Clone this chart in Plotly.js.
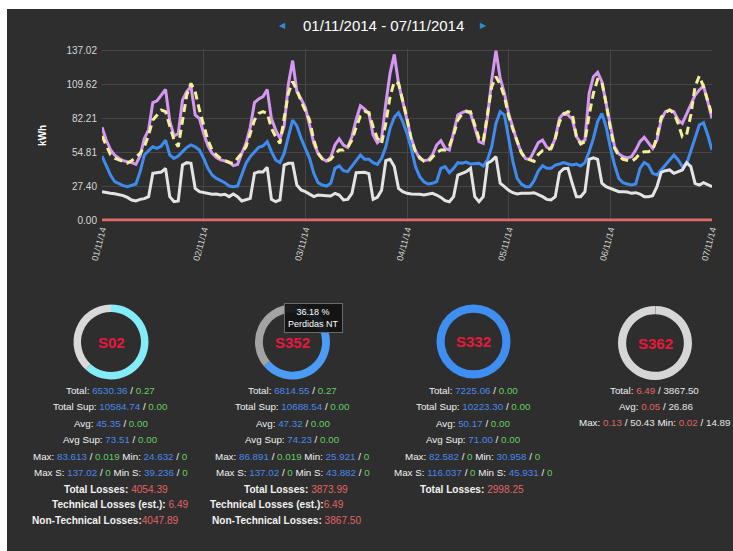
<!DOCTYPE html>
<html>
<head>
<meta charset="utf-8">
<script src="https://cdn.plot.ly/plotly-3.0.1.min.js"></script>
<style>
  html, body { margin: 0; padding: 0; background: #ffffff; width: 733px; height: 551px; overflow: hidden; }
  #chart { position: absolute; left: 7px; top: 9px; width: 726px; height: 542px; }
</style>
</head>
<body>
<div id="chart"></div>
<script>
// ---------------- DATA ----------------
const dateRangeLabel = '01/11/2014 - 07/11/2014';
const startDay = '2014-11-01';
const endDay = '2014-11-07';
const yTicks = [0, 27.40, 54.81, 82.21, 109.62, 137.02];
const yTickText = ['0.00', '27.40', '54.81', '82.21', '109.62', '137.02'];

// hourly kWh, 01/11/2014 00:00 .. 07/11/2014 00:00
const purpleKwh = [
  75.0,64.7,57.0,52.5,50.0,48.0,47.2,46.5,45.0,52.0,66.0,73.0,95.0,96.5,101.0,105.7,80.0,68.0,70.0,97.0,104.0,108.0,85.0,82.0,
  70.0,60.0,54.0,50.5,48.6,47.5,47.0,44.0,45.0,54.0,62.0,75.0,95.0,98.0,99.8,105.7,82.0,73.0,66.0,76.0,110.0,129.0,104.0,98.0,
  91.0,76.9,62.0,54.0,49.6,47.7,50.7,60.7,65.6,60.7,58.8,67.4,81.5,92.5,89.8,86.3,68.8,62.6,66.1,94.4,118.7,134.0,110.6,95.8,
  79.6,66.1,56.1,49.6,48.0,48.6,52.6,60.7,64.2,58.0,56.6,71.5,85.0,86.9,88.2,86.3,74.2,63.4,62.0,83.6,113.3,137.02,114.7,102.5,
  86.0,75.0,63.4,54.5,49.6,49.1,56.1,62.6,64.7,58.8,57.5,66.1,82.3,86.3,85.0,81.7,67.4,62.6,64.7,102.5,116.0,119.5,111.9,94.4,
  74.2,59.3,53.4,51.3,50.2,51.3,56.6,63.4,66.9,62.0,58.0,64.7,80.9,87.7,89.0,87.7,80.9,78.2,86.3,94.4,101.0,105.2,108.4,95.8,
  82.3
];
const yellowKwh = [
  68.0,60.0,53.0,50.0,48.5,47.5,46.0,48.0,51.0,54.0,59.3,68.8,80.9,85.0,89.0,87.7,75.5,64.7,59.3,80.9,101.0,110.6,103.9,89.0,
  76.9,64.7,56.6,52.6,49.9,48.0,46.4,45.9,49.9,54.0,59.3,70.1,80.9,86.3,87.7,86.3,74.2,67.4,62.0,82.3,102.5,112.0,105.2,96.0,
  89.0,80.9,64.7,54.0,49.4,47.5,49.1,53.4,56.6,56.6,58.8,64.7,75.0,84.2,87.7,86.9,75.5,66.1,62.0,78.2,99.8,112.0,110.6,97.1,
  82.3,64.7,55.3,50.7,47.5,47.2,51.3,54.5,56.6,56.6,59.9,68.8,80.9,85.8,87.7,87.7,76.9,66.1,63.4,86.3,107.9,116.0,109.8,99.8,
  84.0,73.4,63.4,54.5,49.9,48.6,47.5,53.1,56.1,56.6,58.0,66.1,79.6,85.8,87.7,86.3,67.4,61.5,63.4,85.0,102.5,113.8,111.9,94.4,
  74.2,58.0,51.8,49.1,48.0,47.5,49.9,54.0,55.3,55.3,56.6,67.4,83.1,86.9,89.0,86.3,78.2,67.4,68.8,85.0,107.9,116.5,107.9,95.8,
  85.0
];
const blueKwh = [
  51.8,44.5,36.4,31.0,29.1,27.8,27.0,27.8,29.1,39.1,52.6,56.1,59.3,58.0,59.9,64.7,52.6,49.9,51.8,55.3,58.8,60.7,59.3,56.6,
  49.9,41.8,36.4,33.7,31.8,30.2,27.5,27.0,27.5,36.4,45.9,51.3,55.3,58.8,59.9,63.4,55.3,48.6,46.4,53.9,67.4,80.9,76.1,66.1,
  58.0,49.9,37.8,30.2,28.3,27.5,29.7,41.8,43.7,39.9,39.1,43.2,48.0,52.6,49.1,49.1,46.4,45.0,49.9,59.3,74.2,83.1,86.9,79.6,
  70.1,58.0,43.2,35.1,31.0,29.1,29.7,31.0,41.8,43.2,38.3,41.8,46.4,45.9,46.9,45.3,45.3,45.9,43.7,48.6,59.3,78.2,87.7,85.0,
  66.0,47.2,33.7,29.1,27.0,27.0,31.8,39.7,44.0,41.8,41.8,44.5,45.3,46.4,45.3,44.5,45.3,43.7,46.4,55.3,66.1,79.6,86.3,75.5,
  58.8,44.5,33.7,30.2,29.1,28.3,29.1,41.8,46.6,44.5,37.8,36.4,40.5,44.5,48.0,52.6,48.6,43.2,45.3,56.1,67.4,76.9,78.8,68.8,
  56.6
];
const whiteKwh = [
  22.9,22.1,21.6,21.3,20.8,19.7,18.3,16.2,15.4,16.7,17.3,18.9,37.8,38.6,38.8,41.8,18.9,14.8,15.4,44.5,46.4,45.9,25.6,22.9,
  22.1,21.6,20.8,21.0,20.2,20.8,18.9,21.0,18.9,15.4,16.7,17.5,37.8,39.1,38.8,42.6,16.7,14.8,16.2,44.5,45.9,45.9,28.3,24.3,
  22.9,21.0,18.9,20.2,20.2,19.7,19.4,21.6,20.2,16.2,16.7,21.6,38.3,38.6,38.6,37.5,16.7,18.3,24.0,48.0,49.1,43.2,25.6,22.9,
  21.6,21.0,21.0,20.8,20.2,21.0,21.6,20.2,18.3,15.6,14.8,18.9,36.4,37.8,39.1,41.8,18.9,14.8,18.9,45.9,48.0,51.3,29.7,27.0,
  24.0,22.1,21.0,21.6,21.3,21.6,22.1,20.8,18.9,16.7,16.2,18.9,38.3,41.5,41.8,29.7,18.9,18.9,22.9,49.1,50.4,49.1,29.7,27.0,
  25.6,23.7,22.9,22.9,22.7,21.6,22.1,21.0,18.9,18.9,19.7,27.0,38.6,39.9,40.5,37.8,39.1,40.5,46.4,43.2,29.7,28.3,30.2,28.3,
  27.0
];
const redKwh = [
  0,0,0,0,0,0,0,0,0,0,0,0,0,0,0,0,0,0,0,0,0,0,0,0,
  0,0,0,0,0,0,0,0,0,0,0,0,0,0,0,0,0,0,0,0,0,0,0,0,
  0,0,0,0,0,0,0,0,0,0,0,0,0,0,0,0,0,0,0,0,0,0,0,0,
  0,0,0,0,0,0,0,0,0,0,0,0,0,0,0,0,0,0,0,0,0,0,0,0,
  0,0,0,0,0,0,0,0,0,0,0,0,0,0,0,0,0,0,0,0,0,0,0,0,
  0,0,0,0,0,0,0,0,0,0,0,0,0,0,0,0,0,0,0,0,0,0,0,0,
  0
];

// station statistics
const stations = ['S02', 'S352', 'S332', 'S362'];
const totalMain = ['6530.36', '6814.55', '7225.06', '6.49'];
const totalSecond = ['0.27', '0.27', '0.00', '3867.50'];
const totalSupMain = ['10584.74', '10688.54', '10223.30'];
const totalSupSecond = ['0.00', '0.00', '0.00'];
const avgMain = ['45.35', '47.32', '50.17', '0.05'];
const avgSecond = ['0.00', '0.00', '0.00', '26.86'];
const avgSupMain = ['73.51', '74.23', '71.00'];
const avgSupSecond = ['0.00', '0.00', '0.00'];
const maxMain = ['83.613', '86.891', '82.582', '0.13'];
const maxSecond = ['0.019', '0.019', '0', '50.43'];
const minMain = ['24.632', '25.921', '30.958', '0.02'];
const minSecond = ['0', '0', '0', '14.89'];
const maxSMain = ['137.02', '137.02', '116.037'];
const maxSSecond = ['0', '0', '0'];
const minSMain = ['39.236', '43.882', '45.931'];
const minSSecond = ['0', '0', '0'];
const totalLosses = ['4054.39', '3873.99', '2998.25'];
const techLosses = ['6.49', '6.49'];
const nonTechLosses = ['4047.89', '3867.50'];
const tooltipLabel = 'Perdidas NT';

// ---------------- LAYOUT HELPERS ----------------
const OX = 7, OY = 9, W = 726, H = 542;
const px = x => (x - OX) / W;
const py = y => 1 - (y - OY) / H;

const BG = '#2e2e2e';
const GRID = '#464646';
const BLUE_T = '#4a88ea';
const GREEN_T = '#62d062';
const RED_T = '#e06464';
const WHITE_T = '#f2f2f2';
const FONT = 'Liberation Sans, Arial, sans-serif';
const STAT_SIZE = 9.8;
const LOSS_SIZE = 10.1;

const times = purpleKwh.map((_, i) => {
  const d = 1 + Math.floor(i / 24), h = i % 24;
  return '2014-11-' + String(d).padStart(2, '0') + ' ' + String(h).padStart(2, '0') + ':00';
});

// y axis pixel mapping
const plotTop = 50.7, plotBottom = 220, yTop = 137.02;
const ppu = (plotBottom - plotTop) / yTop;
const yRange = [-1.3, 138.8];
const domBottomPix = plotBottom - yRange[0] * ppu;
const domTopPix = plotTop - (yRange[1] - yTop) * ppu;

function line(y, color, dash) {
  return {
    type: 'scatter', mode: 'lines', x: times, y: y,
    line: { color: color, width: 3, dash: dash || 'solid', shape: 'linear' },
    hoverinfo: 'skip', showlegend: false, xaxis: 'x', yaxis: 'y'
  };
}

const traces = [
  line(purpleKwh, '#d597f2'),
  line(yellowKwh, '#f3f197', '8px,5px'),
  line(blueKwh, '#3f8cf0'),
  line(whiteKwh, '#e4e4e4'),
  line(redKwh, '#e06868')
];

// donuts
function donut(cx, cy, r, values, colors, hole) {
  return {
    type: 'pie', values: values, sort: false, direction: 'clockwise', rotation: 0,
    hole: hole, textinfo: 'none', hoverinfo: 'skip', showlegend: false,
    marker: { colors: colors, line: { width: 0 } },
    domain: { x: [px(cx - r), px(cx + r)], y: [py(cy + r), py(cy - r)] }
  };
}
const num = s => parseFloat(s);
const donutCenters = [[111, 342], [292.5, 342], [473.5, 341.5], [655, 343]];
traces.push(donut(donutCenters[0][0], donutCenters[0][1], 37.5,
  [num(totalMain[0]), num(totalLosses[0])], ['#84ecf7', '#d9d9d9'], 0.8));
traces.push(donut(donutCenters[1][0], donutCenters[1][1], 37.5,
  [num(totalMain[1]), num(totalLosses[1])], ['#4b9cf5', '#a3a3a3'], 0.79));
traces.push(donut(donutCenters[2][0], donutCenters[2][1], 37,
  [num(totalMain[2])], ['#3f8ef2'], 0.78));
traces.push(donut(donutCenters[3][0], donutCenters[3][1], 37,
  [num(totalMain[3]), num(totalSecond[3])], ['#e8364a', '#d6d6d6'], 0.78));

// ---------------- ANNOTATIONS ----------------
const ann = [];
function txt(x, y, text, size, color, extra) {
  ann.push(Object.assign({
    xref: 'paper', yref: 'paper', x: px(x), y: py(y), text: text,
    showarrow: false, xanchor: 'center', yanchor: 'middle',
    font: { family: FONT, size: size, color: color || WHITE_T }
  }, extra || {}));
}
const c = (col, s) => '<span style="color:' + col + '">' + s + '</span>';

// header
txt(383, 25, dateRangeLabel, 15, '#ffffff');
txt(282, 25, '◀', 8, '#2b8fd6');
txt(483, 25, '▶', 8, '#2b8fd6');

// kWh title
txt(42, 136, '<b>kWh</b>', 10, '#ffffff', { textangle: -90 });

// donut labels
stations.forEach((s, i) => {
  txt(donutCenters[i][0], donutCenters[i][1], '<b>' + s + '</b>', 15, '#e8183c');
});

const rowY = [390, 406.5, 423, 439.5, 456, 472, 489, 504.5, 520.5];
const pair = (label, a, b, ca, cb) => label + ' ' + c(ca, a) + ' / ' + c(cb, b);

[0, 1, 2].forEach(i => {
  const cx = [110.7, 292.5, 473][i];
  txt(cx, rowY[0], pair('Total:', totalMain[i], totalSecond[i], BLUE_T, GREEN_T), STAT_SIZE);
  txt(cx, rowY[1], pair('Total Sup:', totalSupMain[i], totalSupSecond[i], BLUE_T, GREEN_T), STAT_SIZE);
  txt(cx, rowY[2], pair('Avg:', avgMain[i], avgSecond[i], BLUE_T, GREEN_T), STAT_SIZE);
  txt(cx, rowY[3], pair('Avg Sup:', avgSupMain[i], avgSupSecond[i], BLUE_T, GREEN_T), STAT_SIZE);
  txt(cx, rowY[4], pair('Max:', maxMain[i], maxSecond[i], BLUE_T, GREEN_T) + ' ' +
      pair('Min:', minMain[i], minSecond[i], BLUE_T, GREEN_T), STAT_SIZE);
  txt(cx, rowY[5], pair('Max S:', maxSMain[i], maxSSecond[i], BLUE_T, GREEN_T) + ' ' +
      pair('Min S:', minSMain[i], minSSecond[i], BLUE_T, GREEN_T), STAT_SIZE);
});
// losses rows
txt(116, rowY[6], '<b>Total Losses:</b> ' + c(RED_T, totalLosses[0]), LOSS_SIZE);
txt(120, rowY[7], '<b>Technical Losses (est.):</b> ' + c(RED_T, techLosses[0]), LOSS_SIZE);
txt(105, rowY[8], '<b>Non-Technical Losses:</b>' + c(RED_T, nonTechLosses[0]), LOSS_SIZE);
txt(296, rowY[6], '<b>Total Losses:</b> ' + c(RED_T, totalLosses[1]), LOSS_SIZE);
txt(277, rowY[7], '<b>Technical Losses (est.):</b>' + c(RED_T, techLosses[1]), LOSS_SIZE);
txt(286, rowY[8], '<b>Non-Technical Losses:</b> ' + c(RED_T, nonTechLosses[1]), LOSS_SIZE);
txt(471.5, rowY[6], '<b>Total Losses:</b> ' + c(RED_T, totalLosses[2]), LOSS_SIZE);

// S362 block
txt(654, rowY[0], pair('Total:', totalMain[3], totalSecond[3], RED_T, '#e6e6e6'), STAT_SIZE);
txt(656, rowY[1], pair('Avg:', avgMain[3], avgSecond[3], RED_T, '#e6e6e6'), STAT_SIZE);
txt(654.5, 422.5, pair('Max:', maxMain[3], maxSecond[3], RED_T, '#e6e6e6') + ' ' +
    pair('Min:', minMain[3], minSecond[3], RED_T, '#e6e6e6'), STAT_SIZE);

// tooltip on S352
const ntPct = (num(nonTechLosses[1]) / num(totalSupMain[1]) * 100).toFixed(2);
txt(313.5, 318, ntPct + ' %<br>' + tooltipLabel, 9, '#ffffff', {
  bgcolor: 'rgba(18,18,18,0.92)', bordercolor: '#6a6a6a', borderwidth: 1, borderpad: 3
});

const layout = {
  width: W, height: H,
  margin: { l: 0, r: 0, t: 0, b: 0 },
  paper_bgcolor: BG, plot_bgcolor: BG,
  font: { family: FONT, color: '#d0d0d0' },
  hovermode: false,
  xaxis: {
    type: 'date', domain: [px(102), px(712)], range: [startDay, endDay],
    tickmode: 'linear', tick0: startDay, dtick: 86400000, tickformat: '%d/%m/%y',
    tickangle: -75, tickfont: { size: 9, color: '#d6d6d6' },
    showgrid: true, gridcolor: GRID, gridwidth: 1, zeroline: false, showline: false,
    ticks: '', fixedrange: true
  },
  yaxis: {
    domain: [py(domBottomPix), py(domTopPix)], range: yRange,
    tickmode: 'array', tickvals: yTicks, ticktext: yTickText,
    tickfont: { size: 10, color: '#d6d6d6' },
    showgrid: true, gridcolor: GRID, gridwidth: 1, zeroline: false, showline: false,
    ticks: '', ticklabelstandoff: 4, fixedrange: true
  },
  annotations: ann
};

Plotly.newPlot('chart', traces, layout, { displayModeBar: false, staticPlot: true });
</script>
</body>
</html>
